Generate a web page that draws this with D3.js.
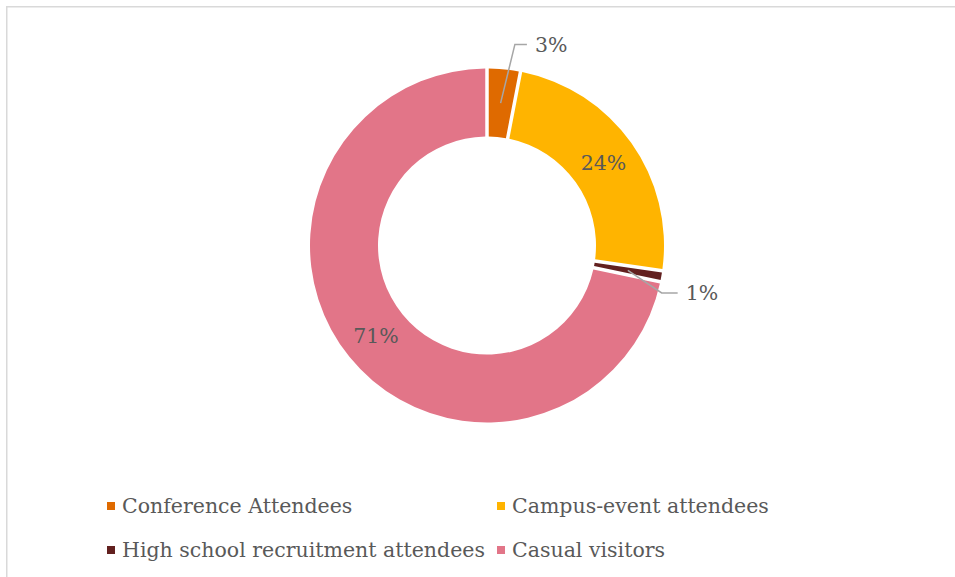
<!DOCTYPE html>
<html>
<head>
<meta charset="utf-8">
<script src="https://cdn.jsdelivr.net/npm/d3@7"></script>
<style>
  html, body { margin: 0; padding: 0; background: #fff; }
  svg { display: block; }
</style>
</head>
<body>
<svg id="chart" width="955" height="577"></svg>
<script>
// Visitor mix (percent of total)
const categories = [
  "Conference Attendees",
  "Campus-event attendees",
  "High school recruitment attendees",
  "Casual visitors"
];
const values = [3, 24, 1, 71];
const colors = ["#DF6A00", "#FFB400", "#62201F", "#E27588"];

const W = 955, H = 577;
const cx = 487, cy = 245.5;
const rOuter = 177, rInner = 109;
const textColor = "#595959";
const fontFamily = "'DejaVu Serif', Georgia, serif";

const svg = d3.select("#chart");

// chart frame
svg.append("rect")
  .attr("x", 6.75).attr("y", 6.75)
  .attr("width", 1200).attr("height", 1200)
  .attr("fill", "none")
  .attr("stroke", "#d9d9d9")
  .attr("stroke-width", 1.5);

const data = categories.map((c, i) => ({ name: c, value: values[i], color: colors[i] }));

const pie = d3.pie().value(d => d.value).sort(null);
const arcs = pie(data);

const gap = 3.5; // white gap between slices, px
const arc = d3.arc()
  .innerRadius(rInner)
  .outerRadius(rOuter)
  .padAngle(gap / Math.sqrt(rInner * rInner + rOuter * rOuter));

const g = svg.append("g").attr("transform", `translate(${cx},${cy})`);

g.selectAll("path.slice")
  .data(arcs)
  .join("path")
  .attr("class", "slice")
  .attr("d", arc)
  .attr("fill", d => d.data.color);

const midR = (rInner + rOuter) / 2;
const polar = (r, a) => [r * Math.sin(a), -r * Math.cos(a)];
const deg = Math.PI / 180;

// small slices get an outside label with a leader line
const outside = {
  0: { r: 203, a: 7.9 * deg, tail: 12 },
  2: { r: 181, a: 105.2 * deg, tail: 16 }
};

arcs.forEach((d, i) => {
  const mid = (d.startAngle + d.endAngle) / 2;
  const label = d.data.value + "%";
  if (outside[i]) {
    const o = outside[i];
    const start = polar(midR, mid);
    const elbow = polar(o.r, o.a);
    const end = [elbow[0] + o.tail, elbow[1]];
    g.append("polyline")
      .attr("points", [start, elbow, end].map(p => p.join(",")).join(" "))
      .attr("fill", "none")
      .attr("stroke", "#a6a6a6")
      .attr("stroke-width", 1.5);
    g.append("text")
      .attr("x", end[0] + 8)
      .attr("y", end[1])
      .attr("dy", "0.35em")
      .attr("text-anchor", "start")
      .attr("font-family", fontFamily)
      .attr("font-size", 20.5)
      .attr("fill", textColor)
      .text(label);
  } else {
    const p = polar(midR, mid);
    g.append("text")
      .attr("x", p[0])
      .attr("y", p[1])
      .attr("dy", "0.35em")
      .attr("text-anchor", "middle")
      .attr("font-family", fontFamily)
      .attr("font-size", 20.5)
      .attr("fill", textColor)
      .text(label);
  }
});

// legend: two columns, two rows
const legendX = [107, 497];
const legendY = [506, 550];
const legend = svg.append("g");
data.forEach((d, i) => {
  const x = legendX[i % 2], y = legendY[Math.floor(i / 2)];
  legend.append("rect")
    .attr("x", x).attr("y", y - 4)
    .attr("width", 8).attr("height", 8)
    .attr("fill", d.color);
  legend.append("text")
    .attr("x", x + 15)
    .attr("y", y)
    .attr("dy", "0.35em")
    .attr("font-family", fontFamily)
    .attr("font-size", 20.5)
    .attr("fill", textColor)
    .text(d.name);
});
</script>
</body>
</html>
